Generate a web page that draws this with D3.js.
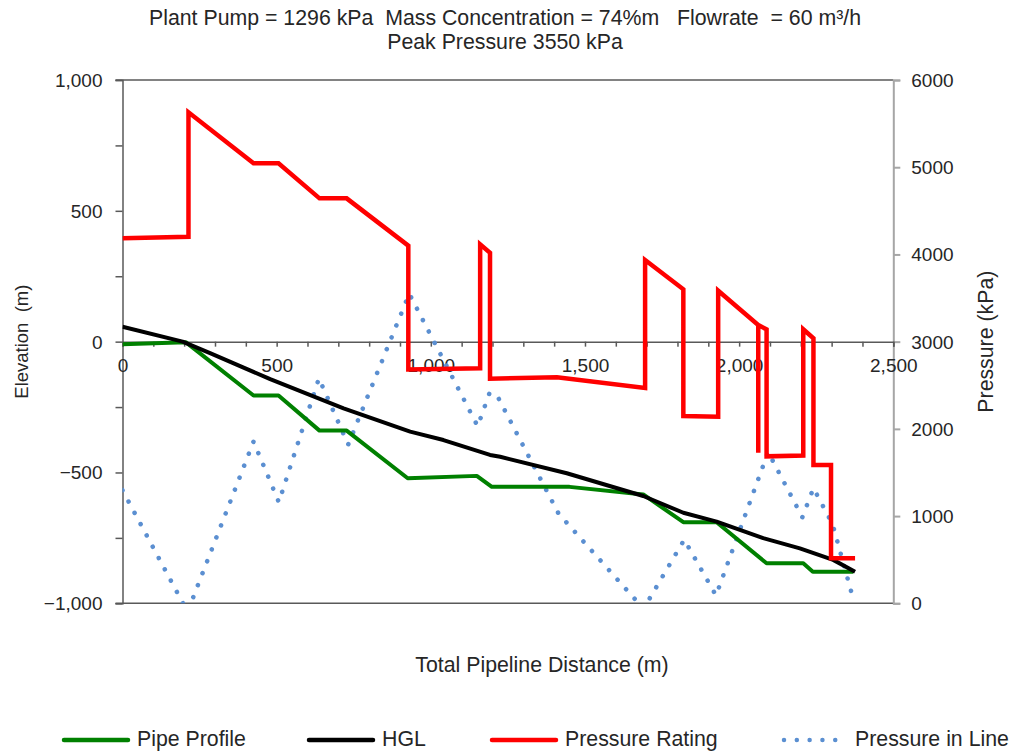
<!DOCTYPE html>
<html>
<head>
<meta charset="utf-8">
<script src="https://cdn.jsdelivr.net/npm/d3@7"></script>
<style>
  html, body { margin: 0; padding: 0; background: #fff; }
  svg { display: block; font-family: "Liberation Sans", Arial, sans-serif; }
  text { white-space: pre; }
</style>
</head>
<body>
<svg id="chart" width="1010" height="751"></svg>
<script>
// Pipe profile: distance (m) and elevation (m)
const profileDist = [0, 205, 425, 506, 639, 727, 925, 1149, 1198, 1450, 1689, 1819, 1927, 2089, 2208, 2239, 2370];
const profileElev = [-10, -2, -206, -206, -340, -340, -522, -513, -555, -555, -584, -690, -690, -847, -847, -879, -879];

// Hydraulic grade line: distance (m) and head (m)
const hglDist = [0, 195, 284, 479, 717, 933, 1041, 1192, 1225, 1441, 1689, 1819, 1927, 2078, 2197, 2305, 2376];
const hglElev = [57, 0, -44, -143, -255, -344, -376, -433, -440, -503, -590, -654, -688, -751, -790, -834, -879];

// Pipe pressure rating: distance (m) and kPa
const ratingDist = [0, 214, 214, 425, 506, 639, 727, 927, 927, 1160, 1160, 1192, 1192, 1409, 1695, 1695, 1819, 1819, 1932, 1932, 2062, 2062, 2062, 2089, 2089, 2208, 2208, 2241, 2241, 2298, 2298, 2376];
const ratingKpa  = [4185, 4203, 5630, 5045, 5045, 4643, 4643, 4100, 2680, 2695, 4116, 4020, 2575, 2591, 2470, 3936, 3600, 2147, 2140, 3584, 3191, 1727, 3191, 3140, 1685, 1695, 3141, 3038, 1586, 1586, 516, 516];

// Pressure in the line: distance (m) and kPa
const lineDist = [0, 211, 425, 507, 637, 732, 930, 1152, 1190, 1214, 1414, 1690, 1822, 1925, 2094, 2205, 2241, 2303, 2372];
const lineKpa  = [1296, -98, 1855, 1160, 2580, 1820, 3550, 2030, 2408, 2388, 1030, -63, 730, 90, 1735, 987, 1320, 908, 25];

// Axis ticks and labels
const xTicks = d3.range(0, 2501, 100);
const xLabels = [0, 500, 1000, 1500, 2000, 2500];
const yTicks = d3.range(-1000, 1001, 250);
const yLabels = [-1000, -500, 0, 500, 1000];
const y2Ticks = [0, 1000, 2000, 3000, 4000, 5000, 6000];

const titleLines = [
  "Plant Pump = 1296 kPa  Mass Concentration = 74%m   Flowrate  = 60 m\u00b3/h",
  "Peak Pressure 3550 kPa"
];
const seriesNames = ["Pipe Profile", "HGL", "Pressure Rating", "Pressure in Line"];

const svg = d3.select("#chart");
const plot = { left: 122.5, right: 893.3, top: 80, bottom: 603.3 };

const x = d3.scaleLinear().domain([0, 2500]).range([plot.left, plot.right]);
const y = d3.scaleLinear().domain([-1000, 1000]).range([plot.bottom, plot.top]);
const y2 = d3.scaleLinear().domain([0, 6000]).range([plot.bottom, plot.top]);

const textColor = "#262626";
const axisColor = "#595959";
const labelSize = 21.3;

// Title
svg.selectAll("text.title").data(titleLines).enter().append("text")
  .attr("class", "title")
  .attr("x", 505).attr("y", (d, i) => 25 + i * 24)
  .attr("text-anchor", "middle")
  .attr("font-size", labelSize).attr("fill", textColor)
  .text(d => d);

svg.append("defs").append("clipPath").attr("id", "plotClip")
  .append("rect")
  .attr("x", plot.left).attr("y", plot.top)
  .attr("width", plot.right - plot.left).attr("height", plot.bottom - plot.top);

// Plot frame
svg.append("line").attr("x1", plot.left - 7).attr("x2", plot.right).attr("y1", plot.top).attr("y2", plot.top)
  .attr("stroke", axisColor).attr("stroke-width", 1.5);
svg.append("line").attr("x1", plot.left - 7).attr("x2", plot.right).attr("y1", plot.bottom).attr("y2", plot.bottom)
  .attr("stroke", axisColor).attr("stroke-width", 1.5);

// Left axis (elevation)
const leftAxis = d3.axisLeft(y).tickValues(yTicks).tickSize(7)
  .tickFormat(d => yLabels.includes(d) ? d3.format(",")(d) : "");
const gl = svg.append("g").attr("transform", `translate(${plot.left},0)`).call(leftAxis);
gl.select(".domain").attr("stroke", axisColor).attr("stroke-width", 1.5);
gl.selectAll(".tick line").attr("stroke", axisColor).attr("stroke-width", 1.5);
gl.selectAll(".tick text").attr("font-size", 19).attr("fill", textColor)
  .attr("font-family", "Liberation Sans, Arial, sans-serif").attr("x", -20).attr("dy", "0.34em");

// Right axis (pressure)
const rightAxis = d3.axisRight(y2).tickValues(y2Ticks).tickSize(7).tickFormat(d3.format("d"));
const gr = svg.append("g").attr("transform", `translate(${plot.right},0)`).call(rightAxis);
gr.select(".domain").attr("stroke", "#a6a6a6").attr("stroke-width", 2);
gr.selectAll(".tick line").attr("stroke", "#a6a6a6").attr("stroke-width", 2);
gr.selectAll(".tick text").attr("font-size", 19).attr("fill", textColor)
  .attr("font-family", "Liberation Sans, Arial, sans-serif").attr("x", 18).attr("dy", "0.34em");

// Bottom axis drawn along zero elevation
const bottomAxis = d3.axisBottom(x).tickValues(xTicks).tickSize(5)
  .tickFormat(d => xLabels.includes(d) ? d3.format(",")(d) : "");
const gb = svg.append("g").attr("transform", `translate(0,${y(0)})`).call(bottomAxis);
gb.select(".domain").attr("stroke", axisColor).attr("stroke-width", 1.5);
gb.selectAll(".tick line").attr("stroke", axisColor).attr("stroke-width", 1.5);
gb.selectAll(".tick text").attr("font-size", 19).attr("fill", textColor)
  .attr("font-family", "Liberation Sans, Arial, sans-serif").attr("y", 17);

// Axis titles
svg.append("text").attr("transform", `translate(28,${(plot.top + plot.bottom) / 2}) rotate(-90)`)
  .attr("text-anchor", "middle").attr("font-size", 18.5).attr("fill", textColor).text("Elevation  (m)");
svg.append("text").attr("transform", `translate(993,${(plot.top + plot.bottom) / 2}) rotate(-90)`)
  .attr("text-anchor", "middle").attr("font-size", labelSize).attr("fill", textColor).text("Pressure (kPa)");
svg.append("text").attr("x", 542).attr("y", 672)
  .attr("text-anchor", "middle").attr("font-size", labelSize).attr("fill", textColor).text("Total Pipeline Distance (m)");

// Series
const elevLine = d3.line().x(d => x(d[0])).y(d => y(d[1]));
const kpaLine = d3.line().x(d => x(d[0])).y(d => y2(d[1]));
const zip = (a, b) => a.map((v, i) => [v, b[i]]);

const series = svg.append("g").attr("clip-path", "url(#plotClip)");

series.append("path").datum(zip(lineDist, lineKpa))
  .attr("d", kpaLine).attr("fill", "none")
  .attr("stroke", "#5b8fd1").attr("stroke-width", 4.6)
  .attr("stroke-linecap", "round").attr("stroke-dasharray", "0.01 12.8");

series.append("path").datum(zip(profileDist, profileElev))
  .attr("d", elevLine).attr("fill", "none")
  .attr("stroke", "#008000").attr("stroke-width", 4).attr("stroke-linejoin", "round");

series.append("path").datum(zip(hglDist, hglElev))
  .attr("d", elevLine).attr("fill", "none")
  .attr("stroke", "#000").attr("stroke-width", 4).attr("stroke-linejoin", "round");

series.append("path").datum(zip(ratingDist, ratingKpa))
  .attr("d", kpaLine).attr("fill", "none")
  .attr("stroke", "#ff0000").attr("stroke-width", 4.5).attr("stroke-linejoin", "miter");

// Legend
const legendItems = [
  { name: seriesNames[0], color: "#008000", x0: 64, dash: null },
  { name: seriesNames[1], color: "#000", x0: 309, dash: null },
  { name: seriesNames[2], color: "#ff0000", x0: 492, dash: null },
  { name: seriesNames[3], color: "#5b8fd1", x0: 782, dash: "0.01 12.8" }
];
const lg = svg.append("g");
legendItems.forEach(it => {
  const ln = lg.append("line").attr("x1", it.x0).attr("x2", it.x0 + 64)
    .attr("y1", 740).attr("y2", 740)
    .attr("stroke", it.color).attr("stroke-width", 4.5).attr("stroke-linecap", "round");
  if (it.dash) ln.attr("stroke-dasharray", it.dash).attr("x1", it.x0 + 2);
  lg.append("text").attr("x", it.x0 + 73).attr("y", 745.5)
    .attr("font-size", labelSize).attr("fill", textColor).text(it.name);
});
</script>
</body>
</html>
